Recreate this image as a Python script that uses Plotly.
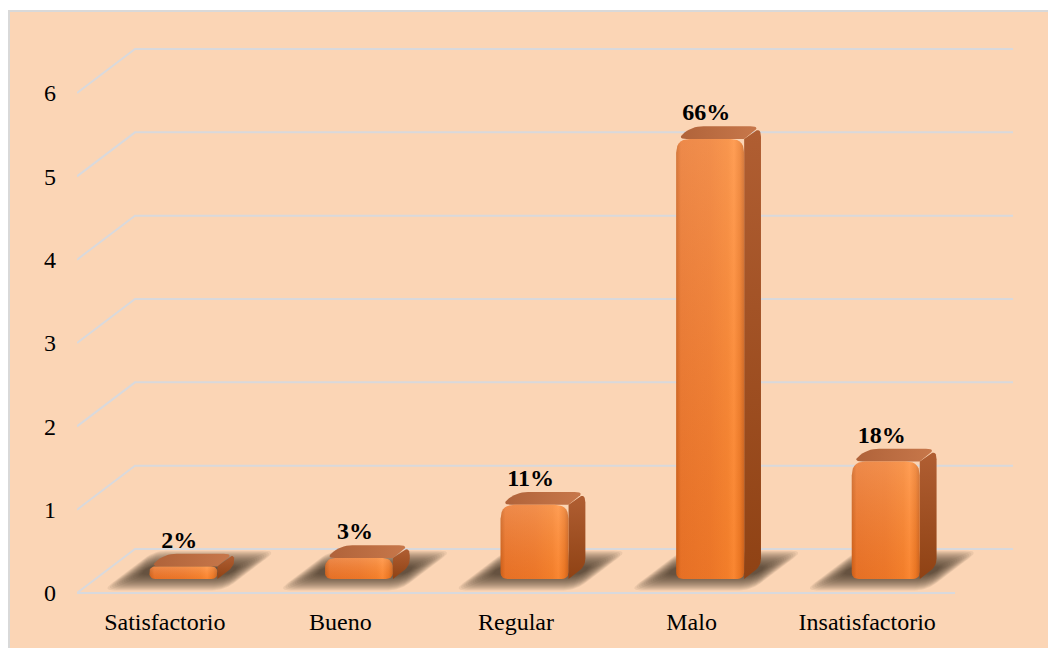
import numpy as np
import plotly.graph_objects as go

# ---------------- data ----------------
categories = ["Satisfactorio", "Bueno", "Regular", "Malo", "Insatisfactorio"]
values = [0.15, 0.25, 0.89, 5.28, 1.41]
pct_labels = ["2%", "3%", "11%", "66%", "18%"]
y_ticks = [0, 1, 2, 3, 4, 5, 6]

# ---------------- geometry / style (pixels) ----------------
OFF = 8                       # page body margin
W, H = 1056 - OFF, 648 - OFF
ML, MT, MR, MB = 77 - OFF, 11 - OFF, 0, 48
PW, PH = W - ML - MR, H - MT - MB
KX = 175.6          # px per category
KY = 83.333         # px per value unit
XMIN = -0.5
XMAX = XMIN + PW / KX
YMAX = 6 + (93 - 11) / KY
YMIN = YMAX - PH / KY
DXP, DYP = 58.0, 44.0   # depth vector (px)
DX, DY = DXP / KX, DYP / KY
F0, F1 = 0.32, 0.61     # bar front / back depth fractions
HW = 34.0               # bar half width (px)

GRID = "#D9D9DC"
FONT = "Liberation Serif"


def to_px(x, y):
    return ML + (x - XMIN) * KX, MT + (YMAX - y) * KY


def to_data(px, py):
    return XMIN + (px - ML) / KX, YMAX - (py - MT) / KY


def rounded(pts, radii, n=8):
    out = []
    N = len(pts)
    for k in range(N):
        p = np.array(pts[k], float)
        a = np.array(pts[k - 1], float)
        b = np.array(pts[(k + 1) % N], float)
        r = radii[k]
        if r <= 0:
            out.append(p)
            continue
        da, db = a - p, b - p
        la, lb = np.hypot(*da), np.hypot(*db)
        r = min(r, 0.5 * la, 0.5 * lb)
        p1 = p + da / la * r
        p2 = p + db / lb * r
        for t in np.linspace(0, 1, n):
            out.append((1 - t) ** 2 * p1 + 2 * (1 - t) * t * p + t ** 2 * p2)
    out.append(out[0])
    xs, ys = [], []
    for q in out:
        x, y = to_data(q[0], q[1])
        xs.append(x)
        ys.append(y)
    return xs, ys


fig = go.Figure()

# ---------------- walls / grid ----------------
for v in y_ticks:
    fig.add_trace(go.Scatter(
        x=[XMIN, XMIN + DX, len(categories) - 0.5 + DX],
        y=[v, v + DY, v + DY],
        mode="lines", line=dict(color=GRID, width=2),
        hoverinfo="skip", showlegend=False))
fig.add_trace(go.Scatter(
    x=[XMIN, len(categories) - 0.5], y=[0, 0],
    mode="lines", line=dict(color=GRID, width=2),
    hoverinfo="skip", showlegend=False))

# ---------------- shadows ----------------
for i, v in enumerate(values):
    cx, base_py = to_px(i, 0)
    for e in np.arange(8, -8.5, -1.0):
        d0, d1 = 0.24 - e / DYP, 0.78 + e / DYP
        u0, u1 = cx - HW - 24 - e, cx + HW + 14 + e
        pts = [(u0 + d0 * DXP, base_py - d0 * DYP),
               (u1 + d0 * DXP, base_py - d0 * DYP),
               (u1 + d1 * DXP, base_py - d1 * DYP),
               (u0 + d1 * DXP, base_py - d1 * DYP)]
        xs, ys = rounded(pts, [12, 12, 12, 12])
        fig.add_trace(go.Scatter(
            x=xs, y=ys, mode="lines", fill="toself",
            fillcolor="rgba(50,34,22,0.075)", line=dict(width=0),
            hoverinfo="skip", showlegend=False))

# ---------------- bars ----------------
for i, v in enumerate(values):
    cx, _ = to_px(i, 0)
    xl = cx - HW + F0 * DXP
    xr = cx + HW + F0 * DXP
    yb = to_px(0, 0)[1] - F0 * DYP
    yt = to_px(0, v)[1] - F0 * DYP
    ddx = (F1 - F0) * DXP
    ddy = (F1 - F0) * DYP

    # side face
    xs, ys = rounded([(xr, yt), (xr + ddx, yt - ddy), (xr + ddx, yb - ddy), (xr, yb)],
                     [0, 12, 8, 0])
    fig.add_trace(go.Scatter(
        x=xs, y=ys, mode="lines", fill="toself", line=dict(width=0),
        fillgradient=dict(type="vertical",
                          colorscale=[[0, "#8F4214"], [1, "#B05E32"]]),
        hoverinfo="skip", showlegend=False))
    # top face
    xs, ys = rounded([(xl, yt), (xr, yt), (xr + ddx, yt - ddy), (xl + ddx, yt - ddy)],
                     [12, 0, 12, 12])
    fig.add_trace(go.Scatter(
        x=xs, y=ys, mode="lines", fill="toself", line=dict(width=0),
        fillgradient=dict(type="horizontal",
                          colorscale=[[0, "#B0633A"], [1, "#C7774A"]]),
        hoverinfo="skip", showlegend=False))
    # front face
    front = [(xl, yb), (xl, yt), (xr, yt), (xr, yb)]
    xs, ys = rounded(front, [7, 14, 14, 7])
    fig.add_trace(go.Scatter(
        x=xs, y=ys, mode="lines", fill="toself", line=dict(width=0),
        fillgradient=dict(type="horizontal", colorscale=[
            [0, "#C85E1A"], [0.07, "#E8742A"], [0.5, "#EE7A2C"],
            [0.76, "#F6842F"], [0.85, "#FF8E38"], [0.94, "#EC7A26"],
            [1, "#C8621E"]]),
        hoverinfo="skip", showlegend=False))
    fig.add_trace(go.Scatter(
        x=xs, y=ys, mode="lines", fill="toself", line=dict(width=0),
        fillgradient=dict(type="vertical", colorscale=[
            [0, "rgba(220,90,10,0.15)"], [1, "rgba(255,215,190,0.22)"]]),
        hoverinfo="skip", showlegend=False))

# ---------------- value labels ----------------
fig.add_trace(go.Scatter(
    x=[i + (F0 * DXP - 4) / KX for i in range(len(values))],
    y=[v + F1 * DY for v in values],
    text=pct_labels, mode="text", textposition="top center",
    textfont=dict(family=FONT, size=24, color="black", weight="bold"),
    cliponaxis=False, hoverinfo="skip", showlegend=False))

# ---------------- background box ----------------
fig.add_shape(type="rect", xref="paper", yref="paper",
              x0=(1 - ML) / PW, x1=1.0 + 5 / PW,
              y0=-(MB + 5) / PH, y1=1.0,
              fillcolor="#FBD5B5", line=dict(color="#D9D9D9", width=2),
              layer="below")

fig.update_layout(
    width=W, height=H,
    margin=dict(l=ML, r=MR, t=MT, b=MB),
    paper_bgcolor="white", plot_bgcolor="rgba(0,0,0,0)",
    font=dict(family=FONT, size=24, color="black"),
    showlegend=False,
    xaxis=dict(range=[XMIN, XMAX], tickvals=list(range(len(categories))),
               ticktext=categories, showgrid=False, zeroline=False,
               showline=False, ticks="", ticklabelstandoff=5,
               tickfont=dict(family=FONT, size=24, color="black"),
               fixedrange=True),
    yaxis=dict(range=[YMIN, YMAX], tickvals=y_ticks,
               ticktext=[str(t) for t in y_ticks], showgrid=False,
               zeroline=False, showline=False, ticks="",
               ticklabelstandoff=20,
               tickfont=dict(family=FONT, size=24, color="black"),
               fixedrange=True),
)

fig.write_html("out.html")
